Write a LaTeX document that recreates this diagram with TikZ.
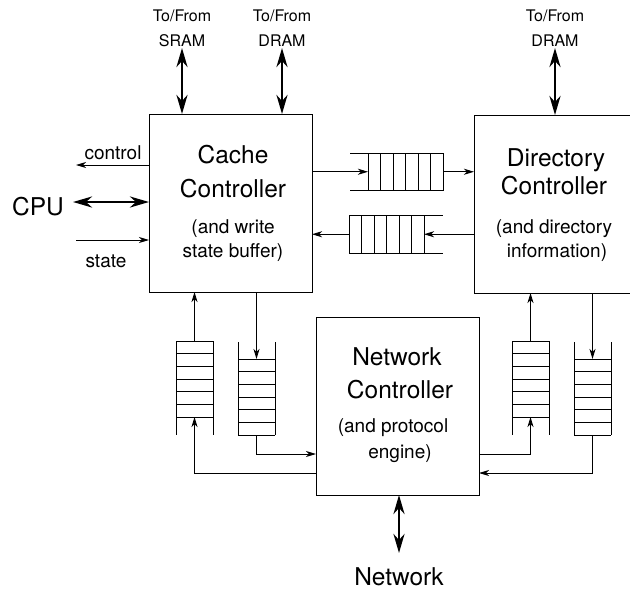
\documentclass[tikz,border=0pt]{standalone}
\usepackage{fontspec}
\setmainfont{TeX Gyre Heros}
\usetikzlibrary{arrows.meta,calc}
\begin{document}
\begin{tikzpicture}[x=1pt,y=-1pt, line width=1pt,
  box/.style={draw, inner sep=0, outer sep=0, anchor=north west, minimum height=178pt},
  qh/.style={inner sep=0, outer sep=0, anchor=north west, minimum width=75pt, minimum height=37.5pt},
  qv/.style={inner sep=0, outer sep=0, anchor=north west, minimum width=37pt, minimum height=76pt},
  big/.style={font=\fontsize{24.5}{24}\selectfont, anchor=base, inner sep=0},
  mid/.style={font=\fontsize{19}{19}\selectfont, anchor=base, inner sep=0},
  small/.style={font=\fontsize{16}{16}\selectfont, anchor=base, inner sep=0},
  arr/.style={-{Stealth[length=10pt,width=6pt,inset=3pt]}, line width=0.9pt},
  dbl/.style={{Stealth[length=19pt,width=11pt,inset=6pt]}-{Stealth[length=19pt,width=11pt,inset=6pt]}, line width=2.6pt},
]
\useasboundingbox (0,0) rectangle (630,590);
\clip (0,0) rectangle (630,590);

% boxes
\node[box, minimum width=163pt] (cache) at (149,114) {};
\node[box, minimum width=170pt] (dir) at (474,115) {};
\node[box, minimum width=163pt] (net) at (316,317) {};

% box texts
\node[big] (c1) at (233,163) {Cache};
\node[big] (c2) at (233,197) {Controller};
\node[mid] (c3) at (233,233) {(and write};
\node[mid] (c4) at (233,257) {state buffer)};
\node[big] (d1) at (556,166) {Directory};
\node[big] (d2) at (554,194) {Controller};
\node[mid] (d3) at (554,233) {(and directory};
\node[mid] (d4) at (557,257) {information)};
\node[big] (n1) at (397,365) {Network};
\node[big] (n2) at (400,398) {Controller};
\node[mid] (n3) at (393,432) {(and protocol};
\node[mid] (n4) at (400,458) {engine)};

% outside labels
\node[small] (l1) at (182,21) {To/From};
\node[small] (l2) at (182,46) {SRAM};
\node[small] (l3) at (282,21) {To/From};
\node[small] (l4) at (282,46) {DRAM};
\node[small] (l5) at (555,21) {To/From};
\node[small] (l6) at (555,46) {DRAM};
\node[big] (cpu) at (38,215) {CPU};
\node[mid] (ctl) at (113,159) {control};
\node[mid] (stl) at (106,267) {state};
\node[big] (netl) at (399,585) {Network};

% thick arrows
\coordinate (sram) at (182,48);
\coordinate (dram) at (282,48);
\coordinate (dram2) at (555,48);
\coordinate (cpuend) at (73,202);
\coordinate (netend) at (399,553);
\draw[dbl] (sram) -- (sram |- cache.north);
\draw[dbl] (dram) -- (dram |- cache.north);
\draw[dbl] (dram2) -- (dram2 |- dir.north);
\draw[dbl] (cpuend) -- (cpuend -| cache.west);
\draw[dbl] (netend |- net.south) -- (netend);

% CPU control/state
\coordinate (ctlend) at (76,165);
\coordinate (stend) at (76,240);
\draw[arr] (ctlend -| cache.west) -- (ctlend);
\draw[arr] (stend) -- (stend -| cache.west);

% horizontal queues
\node[qh] (q1) at (368,153) {};
\draw (q1.north east) -- ++(-93,0);
\draw (q1.south east) -- ++(-93,0);
\foreach \i in {0,...,6} \draw ($(q1.north west)+(12.5*\i,0)$) -- ($(q1.south west)+(12.5*\i,0)$);
\draw[arr] (cache.east |- q1.west) -- (q1.west);
\draw[arr] (q1.east) -- (q1.east -| dir.west);

\node[qh] (q2) at (349,215.5) {};
\draw (q2.north west) -- ++(94,0);
\draw (q2.south west) -- ++(94,0);
\foreach \i in {0,...,6} \draw ($(q2.north west)+(12.5*\i,0)$) -- ($(q2.south west)+(12.5*\i,0)$);
\draw[arr] (dir.west |- q2.east) -- (q2.east);
\draw[arr] (q2.west) -- (q2.west -| cache.east);

% vertical queues
\coordinate (ya) at (0,454);
\coordinate (yb) at (0,473);
\foreach \q/\x in {q3/176, q5/512} {
  \node[qv] (\q) at (\x,341) {};
  \draw (\q.north west) -- ++(0,94);
  \draw (\q.north east) -- ++(0,94);
  \foreach \i in {0,...,6} \draw ($(\q.north west)+(0,76*\i/6)$) -- ($(\q.north east)+(0,76*\i/6)$);
}
\foreach \q/\x in {q4/238, q6/574} {
  \node[qv] (\q) at (\x,359) {};
  \draw (\q.south west) -- ++(0,-93);
  \draw (\q.south east) -- ++(0,-93);
  \foreach \i in {0,...,6} \draw ($(\q.north west)+(0,76*\i/6)$) -- ($(\q.north east)+(0,76*\i/6)$);
}
\draw[arr] (q3.north) -- (q3.north |- cache.south);
\draw[arr] (net.west |- yb) -| (q3.south);
\draw[arr] (q4.north |- cache.south) -- (q4.north);
\draw[arr] (q4.south) |- (net.west |- ya);
\draw[arr] (q5.north) -- (q5.north |- dir.south);
\draw[arr] (net.east |- ya) -| (q5.south);
\draw[arr] (q6.north |- dir.south) -- (q6.north);
\draw[arr] (q6.south) |- (net.east |- yb);
\end{tikzpicture}
\end{document}
